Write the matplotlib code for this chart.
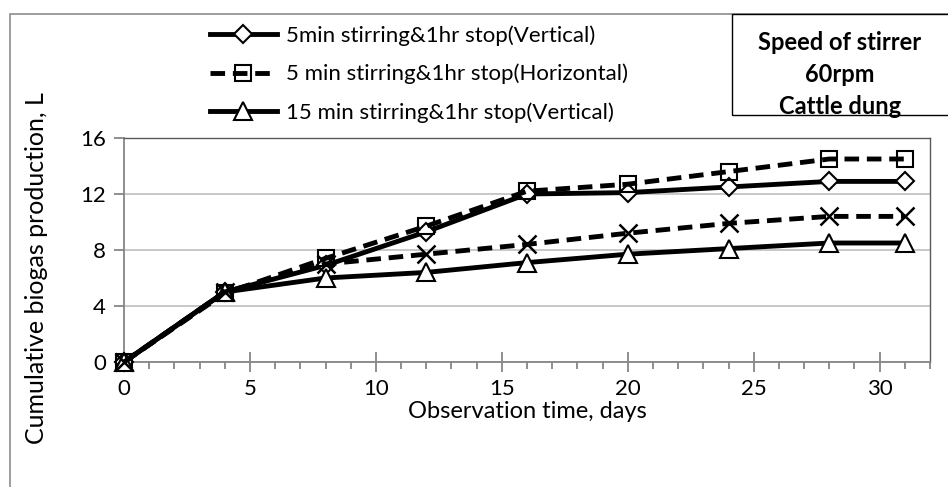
import matplotlib
matplotlib.use('Agg')
import matplotlib.pyplot as plt
from matplotlib.ticker import MultipleLocator
from matplotlib.patches import Rectangle

plt.rcParams['font.family'] = ['Lato', 'DejaVu Sans']

days = [0, 4, 8, 12, 16, 20, 24, 28, 31]
v5_vertical = [0, 5.0, 6.9, 9.3, 12.0, 12.1, 12.5, 12.9, 12.9]
v5_horizontal = [0, 4.9, 7.4, 9.7, 12.2, 12.7, 13.6, 14.5, 14.5]
v15_vertical = [0, 5.0, 6.0, 6.4, 7.1, 7.7, 8.1, 8.5, 8.5]
v15_horizontal = [0, 5.0, 7.0, 7.7, 8.4, 9.2, 9.9, 10.4, 10.4]

labels = ['5min stirring&1hr stop(Vertical)',
          '5 min stirring&1hr stop(Horizontal)',
          '15 min stirring&1hr stop(Vertical)']
box_lines = ['Speed of stirrer', '60rpm', 'Cattle dung']

W, H = 948, 487
fig = plt.figure(figsize=(W / 100, H / 100), dpi=100)

# outer chart border (gray)
fig.patches.append(Rectangle((10 / W, -0.1), 1.2, 1.1 - 14 / H, transform=fig.transFigure,
                             fill=False, edgecolor='#8c8c8c', lw=1.2))

ax = fig.add_axes([124 / W, (H - 362) / H, (930 - 124) / W, (362 - 138) / H])

dash = (3.0, 1.6)
ax.plot(days, v5_vertical, '-', color='black', lw=3.5, marker='D', ms=9, mfc='white',
        mec='black', mew=1.5, label=labels[0], zorder=3, clip_on=False)
ax.plot(days, v5_horizontal, color='black', lw=3.5, dashes=dash, marker='s', ms=12, mfc='none',
        mec='black', mew=1.5, label=labels[1], zorder=3, clip_on=False)
ax.plot(days, v15_vertical, '-', color='black', lw=3.5, marker='^', ms=13, mfc='white',
        mec='black', mew=1.5, label=labels[2], zorder=3, clip_on=False)
ax.plot(days, v15_horizontal, color='black', lw=3.5, dashes=dash, marker='x', ms=13,
        mec='black', mew=1.8, label='_nolegend_', zorder=3, clip_on=False)

ax.set_xlim(0, 32)
ax.set_ylim(0, 16)
ax.xaxis.set_major_locator(MultipleLocator(5))
ax.xaxis.set_minor_locator(MultipleLocator(1))
ax.yaxis.set_major_locator(MultipleLocator(4))
ax.grid(True, axis='y', color='#bfbfbf', lw=1.2)
ax.set_axisbelow(True)

for s in ['left', 'bottom']:
    ax.spines[s].set_color('#868686')
    ax.spines[s].set_linewidth(1.3)
for s in ['top', 'right']:
    ax.spines[s].set_color('#595959')
    ax.spines[s].set_linewidth(1.0)

ax.tick_params(axis='x', which='major', direction='inout', length=14, width=1.3, color='#868686',
               labelsize=16, pad=5)
ax.tick_params(axis='x', which='minor', direction='out', length=5, width=1.3, color='#868686')
ax.tick_params(axis='y', which='major', direction='out', length=7, width=1.3, color='#868686',
               labelsize=16, pad=6)

ax.set_xlabel('Observation time, days', fontsize=17, labelpad=2)
fig.text(37 / W, 1 - 268 / H, 'Cumulative biogas production, L', rotation=90,
         ha='center', va='center', fontsize=18)

ax.legend(loc='upper left', bbox_to_anchor=(210 / W, 1 - 25 / H), bbox_transform=fig.transFigure,
          frameon=False, fontsize=16, handlelength=3.0, handletextpad=0.4, labelspacing=0.82,
          borderpad=0, borderaxespad=0)

# annotation box top right
fig.patches.append(Rectangle((732 / W, 1 - 115 / H), 0.5, 101 / H, transform=fig.transFigure,
                             fill=False, edgecolor='black', lw=1.0))
for txt, yy in zip(box_lines, [43, 75, 107]):
    fig.text(840 / W, 1 - yy / H, txt, ha='center', va='center', fontsize=17, fontweight='bold')

plt.savefig('out.png', dpi=100)
